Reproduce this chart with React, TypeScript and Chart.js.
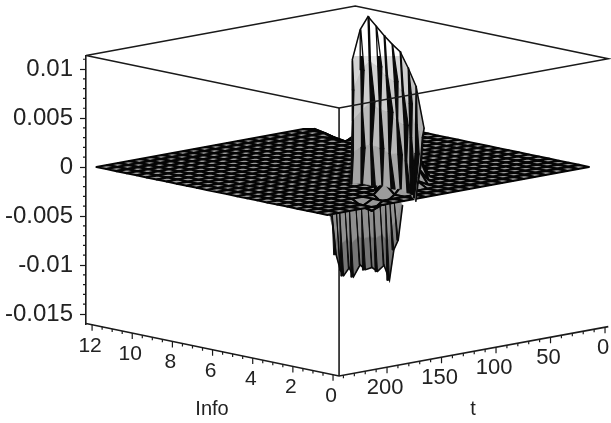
import React, { useEffect, useRef } from "react";
import { Chart, registerables } from "chart.js";

Chart.register(...registerables);

const infoGrid = [12, 11.5, 11, 10.5, 10, 9.5, 9, 8.5, 8, 7.5, 7, 6.5, 6, 5.5, 5, 4.5, 4, 3.5, 3, 2.5, 2, 1.5, 1, 0.5];
const tGrid = [0, 10, 20, 30, 40, 50, 60, 70, 80, 90, 100, 110, 120, 130, 140, 150, 160, 170, 180, 190, 200, 210, 220, 230, 240];
// sparse non-zero heights on the main surface: [info, t, z]
const surfaceBumps: number[][] = [
  [12, 0, -0.0026], [12, 10, -0.0026], [12, 20, -0.0016], [12, 30, -0.0009], [12, 40, -0.0002],
  [11.5, 10, -0.003], [11.5, 20, -0.0017], [11.5, 30, -0.0011], [11.5, 40, -0.0004],
  [11, 20, -0.002], [11, 30, -0.0014], [11, 40, -0.0007],
  [10.5, 30, -0.0014], [10.5, 40, -0.001], [10.5, 50, -0.0003], [10, 50, -0.0006],
  [2.5, 140, 0.0012], [2.5, 150, 0.003], [2, 150, 0.002], [2, 160, 0.001],
  [3, 120, 0.001], [3, 110, 0.0022], [2.5, 120, 0.0015], [2, 130, 0.0006],
  [1.5, 150, 0.0012], [1.5, 170, -0.0008], [1, 190, -0.0008], [1.5, 190, -0.0006],
];

const spikeInfo = [11.75, 11.35, 10.96, 10.56, 10.16, 9.76, 9.36, 8.96, 8.57, 8.17];
const spikeLevelInfo = [0, -2, -4, -6, -8];
const spikeLevelT = [10, 43, 76, 110, 143];
const spikeFootShift = [15, 13, 11, 9, 8, 7, 8, 12, 17, 22];
const spikeZ = [
  [0.0063, 0.0049, 0.0034, 0.0016, 0.0001],
  [0.0096, 0.0071, 0.0046, 0.0024, 0.0003],
  [0.0111, 0.0082, 0.0056, 0.0028, 0.0002],
  [0.0103, 0.0078, 0.005, 0.0026, 0.0004],
  [0.0095, 0.007, 0.0049, 0.0022, 0.0002],
  [0.0088, 0.0066, 0.0042, 0.0023, 0.0003],
  [0.0082, 0.0058, 0.0039, 0.0018, 0.0001],
  [0.0067, 0.0047, 0.0028, 0.0014, 0.0002],
  [0.005, 0.0027, 0.0014, 0.0006, 0.0001],
  [0.0009, 0.0016, 0.0006, 0.0002, 0],
];
const spikeCrease = [
  [0.02, 0.08, 0.04, 0.1, 0.02],
  [0.03, 0.16, 0.05, 0.2, 0.04],
  [0.05, 0.06, 0.22, 0.08, 0.18],
  [0.02, 0.2, 0.06, 0.18, 0.03],
  [0.04, 0.07, 0.24, 0.06, 0.2],
  [0.02, 0.18, 0.05, 0.22, 0.05],
  [0.03, 0.06, 0.2, 0.08, 0.16],
  [0.02, 0.16, 0.08, 0.2, 0.12],
  [0.02, 0.08, 0.2, 0.16, 0.06],
  [0.01, 0.03, 0.05, 0.03, 0.01],
];

const troughT = [236, 232, 228, 225, 220, 216, 210, 205, 199, 194, 188, 183, 179, 175, 171];
const troughDepth = [-0.0002, -0.0042, -0.0059, -0.0065, -0.0058, -0.0068, -0.0057, -0.0063, -0.0062, -0.0067, -0.0062, -0.0078, -0.0048, -0.0039, -0.0004];
const troughCrease = [0.8, 2.2, 0.6, 2.6, 0.8, 2.4, 0.8, 2.8, 0.6, 2.2, 0.8, 2.4, 1.6, 1.2, 0.4];

const zTicks = [0.01, 0.005, 0, -0.005, -0.01, -0.015];
const zMinorTicks = [0.011, 0.009, 0.008, 0.007, 0.006, 0.004, 0.003, 0.002, 0.001, -0.001, -0.002, -0.003, -0.004, -0.006, -0.007, -0.008, -0.009, -0.011, -0.012, -0.013, -0.014];
const infoMajor = [12, 10, 8, 6, 4, 2, 0];
const infoMinor = [11.5, 11, 10.5, 9.5, 9, 8.5, 7.5, 7, 6.5, 5.5, 5, 4.5, 3.5, 3, 2.5, 1.5, 1, 0.5];
const tMajor = [0, 50, 100, 150, 200];
const tMinor = [10, 20, 30, 40, 60, 70, 80, 90, 110, 120, 130, 140, 160, 170, 180, 190, 210, 220, 230, 240];

const Z_MIN = -0.01602;
const Z_MAX = 0.01133;
const INFO_LO = -0.3;
const INFO_HI = 12.3;
const T_LO = -3;
const T_HI = 244;
const PX = 9.8 / 0.001;

function project(info: number, t: number, z: number) {
  const x = 599 - 20.08 * info - 1.09 * t;
  const y = z + (4.17 * info - 0.2 * t - 2) / PX;
  return { x, y };
}

function grayOf(z: number) {
  const f = Math.max(0, Math.min(1, (z - Z_MIN) / (Z_MAX - Z_MIN)));
  const g = Math.round(25 + 222 * f);
  return `rgb(${g},${g},${g})`;
}

function surfaceZ(info: number, t: number) {
  const b = surfaceBumps.find((p) => p[0] === info && p[1] === t);
  return b ? b[2] : 0;
}

type Pt = [number, number, number];
function cell(pts: Pt[], lineWidth: number, color?: string, stroke?: string) {
  const meanZ = pts.reduce((s, p) => s + p[2], 0) / pts.length;
  const data = pts.map((p) => project(p[0], p[1], p[2]));
  data.push(data[0]);
  const fillColor = color ?? grayOf(meanZ);
  return {
    type: "scatter",
    data,
    showLine: true,
    pointRadius: 0,
    fill: "shape",
    backgroundColor: fillColor,
    borderColor: stroke ?? fillColor,
    borderWidth: lineWidth,
    borderJoinStyle: "round",
    tension: 0,
    clip: false,
  };
}

function line(points: { x: number; y: number }[], width = 1.5, color = "#1a1a1a") {
  return {
    type: "scatter",
    data: points,
    showLine: true,
    pointRadius: 0,
    fill: false,
    borderColor: color,
    borderWidth: width,
    tension: 0,
    clip: false,
    spanGaps: false,
  };
}

function buildDatasets() {
  const out: any[] = [];
  const box = (i: number, t: number, z: number) => project(i, t, z);
  out.push(line([box(INFO_LO, T_HI, Z_MIN), box(INFO_LO, T_HI, Z_MAX)], 1.6));

  // trough, behind the main surface
  const troughLevels = [[0.7, 0], [0.6, 0.5], [0.5, 1]];
  for (let k = 0; k < troughT.length - 1; k++) {
    for (let l = 0; l < troughLevels.length - 1; l++) {
      const a = troughLevels[l];
      const b = troughLevels[l + 1];
      const T = (idx: number, lev: number[]): Pt => [lev[0], troughT[idx], troughDepth[idx] * lev[1]];
      out.push(cell([T(k, a), T(k + 1, a), T(k + 1, b), T(k, b)], 0.6));
    }
    const bottom = (idx: number, off: number): Pt => [troughLevels[2][0], troughT[idx] - off, troughDepth[idx]];
    const upper: Pt = [troughLevels[0][0], troughT[k], 0];
    out.push(cell([upper, bottom(k, 0), bottom(k, -troughCrease[k])], 1, "#0a0a0a", "#0a0a0a"));
  }
  out.push(line(troughT.map((t, k) => project(0.5, t, troughDepth[k])), 1.6, "#0a0a0a"));

  // main surface, far corner first
  for (let i = 0; i < infoGrid.length - 1; i++) {
    for (let j = 0; j < tGrid.length - 1; j++) {
      const a = infoGrid[i];
      const b = infoGrid[i + 1];
      const p = tGrid[j];
      const q = tGrid[j + 1];
      out.push(cell([[a, p, surfaceZ(a, p)], [a, q, surfaceZ(a, q)], [b, q, surfaceZ(b, q)], [b, p, surfaceZ(b, p)]], 2.1, undefined, "#050505"));
    }
  }

  // the tall ridge: grey faces between stripes, black creases along them
  const levelPt = (row: number, lev: number, off = 0): Pt => [
    spikeInfo[row] + spikeLevelInfo[lev] - off,
    spikeLevelT[lev] + (spikeFootShift[row] * lev) / (spikeLevelT.length - 1),
    spikeZ[row][lev],
  ];
  for (let r = spikeInfo.length - 2; r >= 0; r--) {
    for (let l = spikeLevelT.length - 2; l >= 0; l--) {
      out.push(cell([levelPt(r, l), levelPt(r + 1, l), levelPt(r + 1, l + 1), levelPt(r, l + 1)], 0.6));
    }
  }
  for (let r = spikeInfo.length - 1; r >= 0; r--) {
    for (let l = spikeLevelT.length - 2; l >= 0; l--) {
      out.push(cell([levelPt(r, l), levelPt(r, l, spikeCrease[r][l]), levelPt(r, l + 1, spikeCrease[r][l + 1]), levelPt(r, l + 1)], 1.3, "#0a0a0a", "#0a0a0a"));
    }
  }
  out.push(line(spikeInfo.map((_, r) => project(spikeInfo[r], spikeLevelT[0], spikeZ[r][0])), 1.5, "#0a0a0a"));

  // box edges
  const top = Z_MAX;
  const bot = Z_MIN;
  out.push(line([box(INFO_HI, T_HI, top), box(INFO_LO, T_HI, top), box(INFO_LO, T_LO, top), box(INFO_HI, T_LO, top), box(INFO_HI, T_HI, top)], 1.5));
  out.push(line([box(INFO_HI, T_HI, bot), box(INFO_LO, T_HI, bot), box(INFO_LO, T_LO, bot), box(INFO_LO, T_LO, top)], 1.6));

  const tick = (i: number, t: number, len: number) => {
    const a = project(i, t, Z_MIN);
    return [a, { x: a.x, y: a.y - len / PX }, { x: NaN, y: NaN }];
  };
  out.push(line(infoMajor.flatMap((v) => tick(v, T_HI, 6)), 1.2));
  out.push(line(infoMinor.flatMap((v) => tick(v, T_HI, 3)), 1.2));
  out.push(line(tMajor.flatMap((v) => tick(INFO_LO, v, 6)), 1.2));
  out.push(line(tMinor.flatMap((v) => tick(INFO_LO, v, 3)), 1.2));
  out.push(line(zMinorTicks.flatMap((v) => [{ x: 86, y: v }, { x: 83, y: v }, { x: NaN, y: NaN }]), 1.2));

  return out.reverse();
}

const floorLabels = {
  id: "floorLabels",
  afterDraw(chart: any) {
    const { ctx, scales } = chart;
    const put = (text: string, sx: number, sy: number, size: number) => {
      ctx.font = `${size}px "Liberation Sans"`;
      ctx.fillStyle = "#222";
      ctx.textAlign = "center";
      ctx.textBaseline = "middle";
      ctx.fillText(text, sx, sy);
    };
    ctx.save();
    infoMajor.forEach((v) => {
      const p = project(v, T_HI, Z_MIN);
      put(String(v), scales.x.getPixelForValue(p.x) - 2, scales.y.getPixelForValue(p.y) + 21, 21);
    });
    tMajor.forEach((v) => {
      const p = project(INFO_LO, v, Z_MIN);
      put(String(v), scales.x.getPixelForValue(p.x) - 2, scales.y.getPixelForValue(p.y) + 21, 22);
    });
    put("Info", scales.x.getPixelForValue(212), 409, 20);
    put("t", scales.x.getPixelForValue(473), 409, 20);
    ctx.restore();
  },
};

export default function App() {
  const ref = useRef<HTMLCanvasElement | null>(null);
  useEffect(() => {
    if (!ref.current) return;
    const chart = new Chart(ref.current, {
      type: "scatter",
      data: { datasets: buildDatasets() as any },
      plugins: [floorLabels],
      options: {
        responsive: false,
        animation: false,
        devicePixelRatio: 1,
        layout: { padding: { top: 56, bottom: 99, right: 3, left: 0 } },
        plugins: { legend: { display: false }, tooltip: { enabled: false } },
        events: [],
        scales: {
          x: { type: "linear", display: false, min: 86, max: 608 },
          y: {
            type: "linear",
            min: Z_MIN,
            max: Z_MAX,
            position: "left",
            afterFit(s: any) {
              s.width = 86;
            },
            afterBuildTicks(s: any) {
              s.ticks = zTicks.map((v) => ({ value: v }));
            },
            border: { display: true, color: "#1a1a1a", width: 1.6 },
            grid: { display: true, drawOnChartArea: false, drawTicks: true, tickLength: 6, tickColor: "#1a1a1a", tickWidth: 1.2 },
            ticks: {
              padding: 7,
              color: "#222",
              autoSkip: false,
              font: { family: '"Liberation Sans"', size: 24 },
              callback: (v: any) => String(v),
            },
          },
        },
      } as any,
    });
    return () => chart.destroy();
  }, []);
  return <canvas ref={ref} width={611} height={423} style={{ position: "fixed", left: 0, top: 0, width: 611, height: 423 }} />;
}
